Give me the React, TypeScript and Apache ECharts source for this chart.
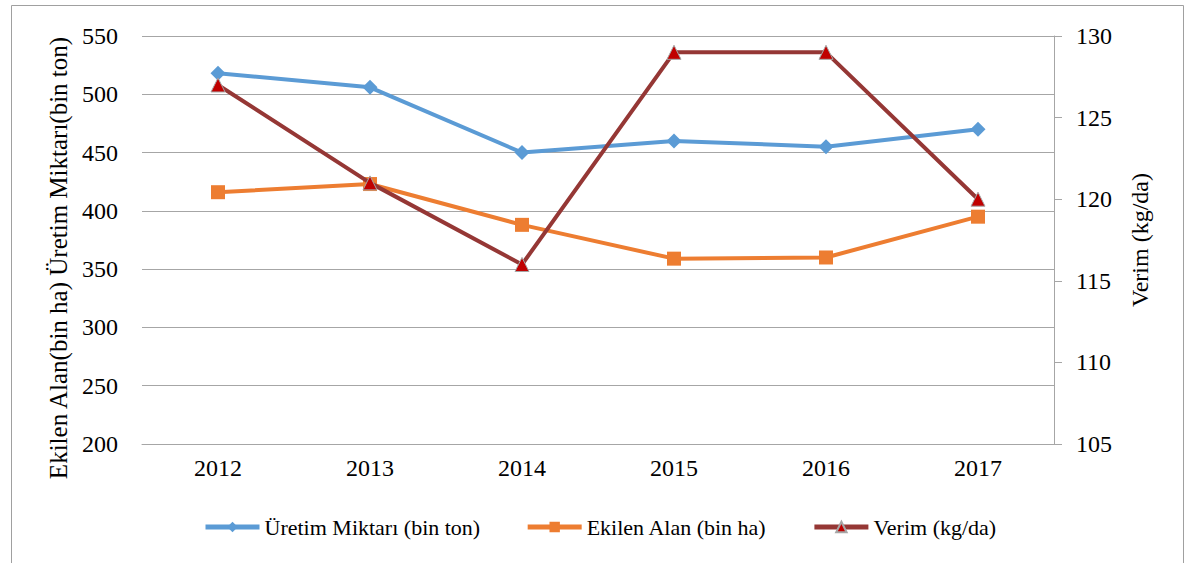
import React, { useEffect, useRef } from "react";
import * as echarts from "echarts";

const years = ["2012", "2013", "2014", "2015", "2016", "2017"];
const uretim = [518, 506, 450, 460, 455, 470];
const ekilen = [416, 423, 388, 359, 360, 395];
const verim = [127, 121, 116, 129, 129, 120];

const leftName = "Ekilen Alan(bin ha) Üretim Miktarı(bin ton)";
const rightName = "Verim (kg/da)";
const seriesNames = ["Üretim Miktarı (bin ton)", "Ekilen Alan (bin ha)", "Verim (kg/da)"];

const FONT = "Times New Roman, Liberation Serif, serif";
const GRID_COLOR = "#A6A6A6";

export default function App() {
  const ref = useRef<HTMLDivElement>(null);
  useEffect(() => {
    document.body.style.margin = "0";
    if (!ref.current) return;
    const chart = echarts.init(ref.current, null, { renderer: "svg" });
    chart.setOption({
      animation: false,
      backgroundColor: "#fff",
      textStyle: { fontFamily: FONT, color: "#000" },
      graphic: [
        {
          type: "rect",
          shape: { x: 11.5, y: 5.5, width: 1172, height: 600 },
          style: { fill: "none", stroke: "#A0A0A0", lineWidth: 1 },
          silent: true,
        },
      ],
      grid: { left: 142, right: 130, top: 36, bottom: 119, containLabel: false },
      legend: {
        bottom: 20,
        left: 198,
        itemWidth: 54,
        itemHeight: 13,
        itemGap: 45,
        lineStyle: { width: 5 },
        textStyle: { fontFamily: FONT, fontSize: 22, color: "#000" },
        data: seriesNames,
      },
      xAxis: {
        type: "category",
        data: years,
        boundaryGap: true,
        axisLine: { show: true, lineStyle: { color: GRID_COLOR, width: 1 } },
        axisTick: { show: false },
        axisLabel: { fontFamily: FONT, fontSize: 24, color: "#000", margin: 12 },
      },
      yAxis: [
        {
          type: "value",
          min: 200,
          max: 550,
          interval: 50,
          name: leftName,
          nameLocation: "middle",
          nameGap: 70,
          nameTextStyle: { fontFamily: FONT, fontSize: 25, color: "#000", padding: [0, 36, 0, 0] },
          axisLine: { show: false },
          axisTick: { show: false },
          splitLine: { show: true, lineStyle: { color: GRID_COLOR, width: 1 } },
          axisLabel: { fontFamily: FONT, fontSize: 24, color: "#000", margin: 24 },
        },
        {
          type: "value",
          min: 105,
          max: 130,
          interval: 5,
          name: rightName,
          nameLocation: "middle",
          nameGap: 74,
          nameTextStyle: { fontFamily: FONT, fontSize: 24, color: "#000" },
          axisLine: { show: true, lineStyle: { color: GRID_COLOR, width: 1 } },
          axisTick: { show: true, length: 8, lineStyle: { color: GRID_COLOR } },
          splitLine: { show: false },
          axisLabel: { fontFamily: FONT, fontSize: 24, color: "#000", margin: 22 },
        },
      ],
      series: [
        {
          name: seriesNames[0],
          type: "line",
          yAxisIndex: 0,
          data: uretim,
          symbol: "diamond",
          symbolSize: 15,
          lineStyle: { color: "#5B9BD5", width: 4 },
          itemStyle: { color: "#5B9BD5" },
          z: 3,
        },
        {
          name: seriesNames[1],
          type: "line",
          yAxisIndex: 0,
          data: ekilen,
          symbol: "rect",
          symbolSize: 14,
          lineStyle: { color: "#ED7D31", width: 4 },
          itemStyle: { color: "#ED7D31" },
          z: 4,
        },
        {
          name: seriesNames[2],
          type: "line",
          yAxisIndex: 1,
          data: verim,
          symbol: "triangle",
          symbolSize: 14,
          lineStyle: { color: "#953735", width: 4 },
          itemStyle: { color: "#C00000", borderColor: "#A6A6A6", borderWidth: 1 },
          z: 5,
        },
      ],
    });
    return () => chart.dispose();
  }, []);
  return <div ref={ref} style={{ width: 1184, height: 563 }} />;
}
